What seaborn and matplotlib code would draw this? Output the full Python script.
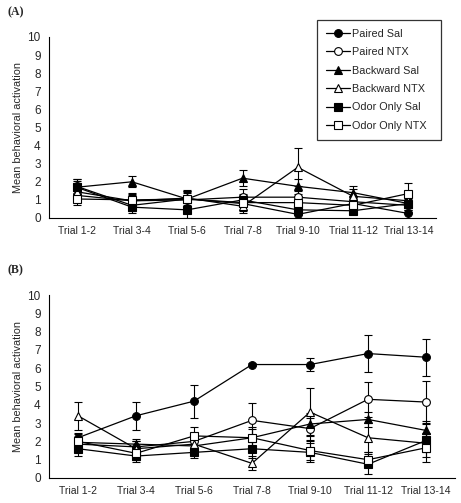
import numpy as np
import pandas as pd
import matplotlib
matplotlib.use("Agg")
import matplotlib.pyplot as plt
import seaborn as sns

trials = ["Trial 1-2", "Trial 3-4", "Trial 5-6", "Trial 7-8", "Trial 9-10", "Trial 11-12", "Trial 13-14"]
groups = ["Paired Sal", "Paired NTX", "Backward Sal", "Backward NTX", "Odor Only Sal", "Odor Only NTX"]

# Panel A means and SEM
a_paired_sal = [1.75, 0.7, 1.05, 0.8, 0.2, 0.8, 0.25]
a_paired_ntx = [1.25, 0.95, 1.0, 1.15, 1.15, 0.9, 0.7]
a_backward_sal = [1.7, 2.0, 1.05, 2.2, 1.75, 1.4, 0.8]
a_backward_ntx = [1.45, 0.95, 1.1, 0.65, 2.8, 1.2, 0.95]
a_odor_sal = [1.7, 0.6, 0.45, 1.0, 0.45, 0.4, 0.8]
a_odor_ntx = [1.05, 1.0, 1.05, 0.85, 0.85, 0.7, 1.35]

a_paired_sal_err = [0.4, 0.3, 0.45, 0.4, 0.2, 0.3, 0.3]
a_paired_ntx_err = [0.35, 0.3, 0.4, 0.45, 0.35, 0.3, 0.35]
a_backward_sal_err = [0.45, 0.3, 0.5, 0.45, 0.4, 0.35, 0.5]
a_backward_ntx_err = [0.5, 0.45, 0.4, 0.4, 1.05, 0.4, 0.5]
a_odor_sal_err = [0.35, 0.3, 0.45, 0.35, 0.3, 0.2, 0.35]
a_odor_ntx_err = [0.35, 0.35, 0.4, 0.4, 0.35, 0.3, 0.6]

# Panel B means and SEM
b_paired_sal = [2.2, 3.4, 4.2, 6.2, 6.2, 6.8, 6.6]
b_paired_ntx = [1.85, 1.7, 2.0, 3.15, 2.7, 4.3, 4.15]
b_backward_sal = [1.95, 1.85, 1.75, 2.2, 2.95, 3.2, 2.6]
b_backward_ntx = [3.4, 1.6, 1.85, 0.8, 3.6, 2.2, 1.9]
b_odor_sal = [1.6, 1.2, 1.4, 1.6, 1.4, 0.75, 2.05]
b_odor_ntx = [2.0, 1.35, 2.3, 2.2, 1.5, 1.0, 1.65]

b_paired_sal_err = [0.25, 0.75, 0.9, 0.1, 0.38, 1.0, 1.0]
b_paired_ntx_err = [0.3, 0.3, 0.4, 0.95, 0.6, 0.95, 1.15]
b_backward_sal_err = [0.3, 0.3, 0.35, 0.5, 0.6, 0.4, 0.5]
b_backward_ntx_err = [0.75, 0.4, 0.4, 0.38, 1.3, 0.8, 0.5]
b_odor_sal_err = [0.4, 0.35, 0.3, 0.5, 0.5, 0.55, 0.9]
b_odor_ntx_err = [0.4, 0.35, 0.5, 0.6, 0.5, 0.4, 0.8]

panel_a = [a_paired_sal, a_paired_ntx, a_backward_sal, a_backward_ntx, a_odor_sal, a_odor_ntx]
panel_a_err = [a_paired_sal_err, a_paired_ntx_err, a_backward_sal_err, a_backward_ntx_err, a_odor_sal_err, a_odor_ntx_err]
panel_b = [b_paired_sal, b_paired_ntx, b_backward_sal, b_backward_ntx, b_odor_sal, b_odor_ntx]
panel_b_err = [b_paired_sal_err, b_paired_ntx_err, b_backward_sal_err, b_backward_ntx_err, b_odor_sal_err, b_odor_ntx_err]

markers = ["o", "o", "^", "^", "s", "s"]
fills = ["black", "white", "black", "white", "black", "white"]

sns.set_style("white")
plt.rcParams["font.family"] = ["Liberation Sans", "DejaVu Sans"]

W, H = 461, 503
fig = plt.figure(figsize=(W / 100, H / 100), dpi=100)

def axes_px(l, t, r, b):
    return fig.add_axes([l / W, 1 - b / H, (r - l) / W, (b - t) / H])

ax_a = axes_px(49, 37, 436, 218)
ax_b = axes_px(49, 295, 455, 478)

x = np.arange(len(trials))

def draw(ax, data, errs, show_legend):
    for g, vals, err, m, fc in zip(groups, data, errs, markers, fills):
        ax.errorbar(x, vals, yerr=err, fmt="none", ecolor="black", elinewidth=0.8,
                    capsize=2.8, capthick=0.8, zorder=2)
        df = pd.DataFrame({"pos": x, "value": vals})
        sns.lineplot(data=df, x="pos", y="value", ax=ax, color="black", linewidth=0.9,
                     marker=m, markersize=5.6 if m != "^" else 6.0, markerfacecolor=fc,
                     markeredgecolor="black", markeredgewidth=0.8, label=g,
                     legend=show_legend, zorder=3)
    ax.set_xlim(-0.5, len(trials) - 0.5)
    ax.set_ylim(0, 10)
    ax.set_yticks(range(0, 11))
    ax.set_xticks(x)
    ax.set_xticklabels(trials, fontsize=7.5)
    ax.set_xticks(np.arange(-0.5, len(trials), 1.0), minor=True)
    ax.tick_params(axis="x", which="major", length=0, pad=6)
    ax.tick_params(axis="x", which="minor", length=4, width=0.8, direction="out", color="black")
    ax.tick_params(axis="y", length=4, width=0.8, direction="out", color="black", labelsize=8.5, pad=2)
    ax.set_xlabel("")
    ax.set_ylabel("Mean behavioral activation", fontsize=7.8, labelpad=3)
    for s in ["top", "right"]:
        ax.spines[s].set_visible(False)
    for s in ["left", "bottom"]:
        ax.spines[s].set_color("black")
        ax.spines[s].set_linewidth(0.8)
    ax.grid(False)

draw(ax_a, panel_a, panel_a_err, True)
draw(ax_b, panel_b, panel_b_err, False)

leg = ax_a.legend(loc="upper left", bbox_to_anchor=(317 / W, 1 - 20 / H, 124 / W, 0.0),
                  bbox_transform=fig.transFigure, fontsize=7.8, frameon=True, fancybox=False,
                  handlelength=2.2, handletextpad=0.2, labelspacing=0.78, borderpad=0.8,
                  borderaxespad=0, mode="expand")
leg.get_frame().set_edgecolor("black")
leg.get_frame().set_linewidth(0.9)

fig.text(7 / W, 1 - 12 / H, "(A)", fontsize=8.5, fontweight="bold",
         family=["Liberation Serif", "DejaVu Serif"], va="center", ha="left")
fig.text(7 / W, 1 - 270 / H, "(B)", fontsize=8.5, fontweight="bold",
         family=["Liberation Serif", "DejaVu Serif"], va="center", ha="left")

fig.savefig("out.png", dpi=100)
